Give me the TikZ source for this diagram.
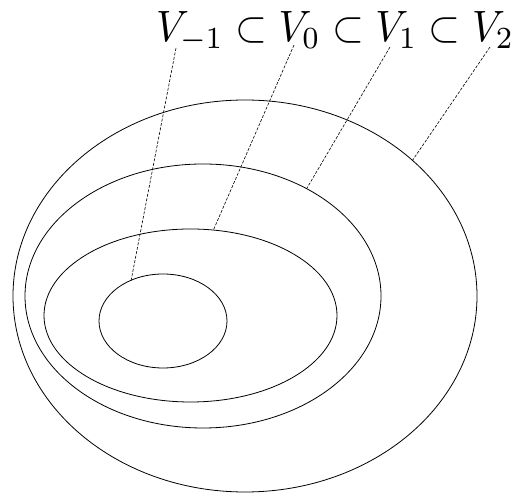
\documentclass[tikz,border=0pt]{standalone}
\usetikzlibrary{shapes.geometric}
\begin{document}
\begin{tikzpicture}[x=1pt,y=1pt,
  ring/.style={draw, ellipse, inner sep=0pt, outer sep=0pt, line width=0.8pt},
  leader/.style={line width=0.6pt, dash pattern=on 3pt off 1.5pt}]
\useasboundingbox (0,0) rectangle (516,494);
% ellipses (centres and radii in px, y flipped)
\node[ring, minimum width=128, minimum height=94] (e1) at (163,173) {};
\node[ring, minimum width=293, minimum height=173] (e2) at (190.5,178.5) {};
\node[ring, minimum width=356, minimum height=264] (e3) at (203,198) {};
\node[ring, minimum width=464, minimum height=392] (e4) at (245,198) {};
% formula
\node[anchor=base west, inner sep=0pt] (chain) at (156,452.3)
  {\resizebox{358pt}{30pt}{$V_{-1}\subset V_0\subset V_1\subset V_2$}};
\coordinate (s1) at (176,446);
\coordinate (s2) at (294,449);
\coordinate (s3) at (390,447);
\coordinate (s4) at (490,447);
\draw[leader] (s1) -- (e1.128.8);
\draw[leader] (s2) -- (e2.75.4);
\draw[leader] (s3) -- (e3.46.9);
\draw[leader] (s4) -- (e4.39);
\end{tikzpicture}
\end{document}
